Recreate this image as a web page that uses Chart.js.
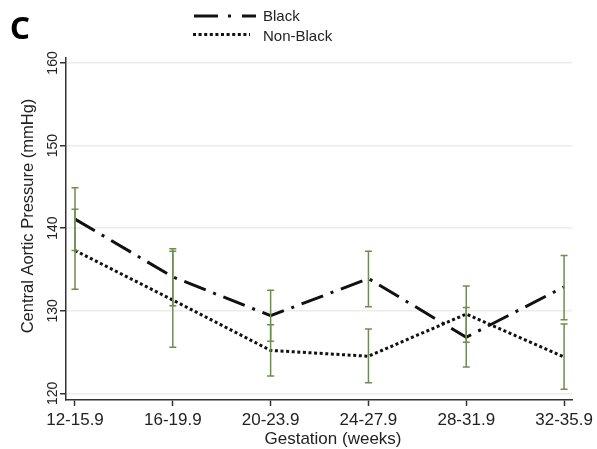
<!DOCTYPE html>
<html>
<head>
<meta charset="utf-8">
<script src="https://cdn.jsdelivr.net/npm/chart.js@4.4.0/dist/chart.umd.min.js"></script>
<style>
  html, body { margin: 0; padding: 0; background: #fff; }
  #wrap { width: 597px; height: 449px; }
</style>
</head>
<body>
<div id="wrap"><canvas id="chart" width="597" height="449"></canvas></div>
<script>
// Gestation windows on the x axis
const categories = ['12-15.9', '16-19.9', '20-23.9', '24-27.9', '28-31.9', '32-35.9'];
const yTicks = [120, 130, 140, 150, 160];
const seriesNames = ['Black', 'Non-Black'];

// Black: mean central aortic pressure and CI
const blackMean = [141.1, 134.1, 129.4, 133.9, 126.8, 132.9];
const blackLow  = [137.3, 130.6, 126.3, 130.5, 123.2, 128.9];
const blackHigh = [144.9, 137.5, 132.5, 137.2, 130.4, 136.7];

// Non-Black: mean central aortic pressure and CI
const nonBlackMean = [137.3, 131.3, 125.2, 124.5, 129.6, 124.4];
const nonBlackLow  = [132.6, 125.6, 122.1, 121.3, 126.2, 120.5];
const nonBlackHigh = [142.3, 137.2, 128.3, 127.8, 133.0, 128.4];

const FONT = '"Liberation Sans", Arial, sans-serif';
const TEXT = '#222';
const BAR_GREEN = '#6b8f4c';

const toPoints = vals => vals.map((v, i) => ({ x: i, y: v }));
// each error bar is its own little segment, split from the next by a null
const toBars = (lo, hi) => lo.flatMap((v, i) => [{ x: i, y: v }, { x: i, y: hi[i] }, { x: i, y: null }]);

const errorBar = (lo, hi) => ({
  data: toBars(lo, hi),
  borderColor: BAR_GREEN,
  borderWidth: 1.5,
  pointStyle: 'line',
  pointRadius: 3.5,
  pointBorderColor: BAR_GREEN,
  pointBorderWidth: 1.5,
  spanGaps: false,
  isBar: true
});

// Texts that Chart.js can't place the same way: rotated y labels, titles, legend, panel letter
const annotations = {
  id: 'annotations',
  afterDraw(chart) {
    const ctx = chart.ctx;
    const yScale = chart.scales.y;
    ctx.save();
    ctx.fillStyle = TEXT;

    // y tick labels, reading bottom to top
    ctx.font = '14px ' + FONT;
    ctx.textAlign = 'center';
    ctx.textBaseline = 'alphabetic';
    yTicks.forEach(t => {
      ctx.save();
      ctx.translate(57, yScale.getPixelForValue(t));
      ctx.rotate(-Math.PI / 2);
      ctx.fillText(String(t), 0, 0);
      ctx.restore();
    });

    // y axis title
    ctx.save();
    ctx.font = '16.5px ' + FONT;
    ctx.translate(33, 216);
    ctx.rotate(-Math.PI / 2);
    ctx.fillText('Central Aortic Pressure (mmHg)', 0, 0);
    ctx.restore();

    // x axis title
    ctx.font = '17px ' + FONT;
    ctx.fillText('Gestation (weeks)', 333, 444);

    // panel letter
    ctx.fillStyle = '#000';
    ctx.font = 'bold 31px "Noto Sans", "Open Sans", sans-serif';
    ctx.textAlign = 'left';
    ctx.fillText('C', 10, 39);

    // legend
    const lines = chart.data.datasets.filter(d => !d.isBar);
    const rows = [
      { y: 16, x0: 194, x1: 256, dash: [24, 10, 3, 11], base: 20.5 },
      { y: 34.5, x0: 193, x1: 250, dash: lines[1].borderDash, base: 40.5 }
    ];
    rows.forEach((r, i) => {
      ctx.save();
      ctx.strokeStyle = lines[i].borderColor;
      ctx.lineWidth = 3;
      ctx.setLineDash(r.dash);
      ctx.beginPath();
      ctx.moveTo(r.x0, r.y);
      ctx.lineTo(r.x1, r.y);
      ctx.stroke();
      ctx.restore();
      ctx.fillStyle = TEXT;
      ctx.font = '15px ' + FONT;
      ctx.textAlign = 'left';
      ctx.fillText(lines[i].label, 263, r.base);
    });
    ctx.restore();
  }
};

new Chart(document.getElementById('chart'), {
  type: 'line',
  data: {
    datasets: [
      errorBar(blackLow, blackHigh),
      errorBar(nonBlackLow, nonBlackHigh),
      {
        label: seriesNames[0],
        data: toPoints(blackMean),
        borderColor: '#111',
        borderWidth: 3,
        borderDash: [23, 8, 3, 8],
        pointRadius: 0,
        tension: 0
      },
      {
        label: seriesNames[1],
        data: toPoints(nonBlackMean),
        borderColor: '#111',
        borderWidth: 3,
        borderDash: [3, 2.6],
        pointRadius: 0,
        tension: 0
      }
    ]
  },
  options: {
    responsive: false,
    animation: false,
    layout: { padding: { top: 58, right: 0, bottom: 0, left: 0 } },
    plugins: { legend: { display: false }, tooltip: { enabled: false } },
    scales: {
      x: {
        type: 'linear',
        min: -0.092,
        max: 5.085,
        afterBuildTicks: s => { s.ticks = categories.map((c, i) => ({ value: i })); },
        afterFit: s => { s.height = 49; },
        ticks: {
          callback: v => categories[v],
          color: TEXT,
          font: { family: FONT, size: 17 },
          padding: 4,
          maxRotation: 0
        },
        grid: { drawOnChartArea: false, tickLength: 6, tickColor: '#333', tickWidth: 1.5 },
        border: { color: '#333', width: 1.5 }
      },
      y: {
        min: 119.2,
        max: 160.6,
        afterBuildTicks: s => { s.ticks = yTicks.map(v => ({ value: v })); },
        afterFit: s => { s.width = 66; },
        ticks: { display: false },
        grid: { color: '#ececec', lineWidth: 1.5, tickLength: 6, tickColor: '#333', tickWidth: 1.5 },
        border: { color: '#333', width: 1.5 }
      }
    }
  },
  plugins: [annotations]
});
</script>
</body>
</html>
